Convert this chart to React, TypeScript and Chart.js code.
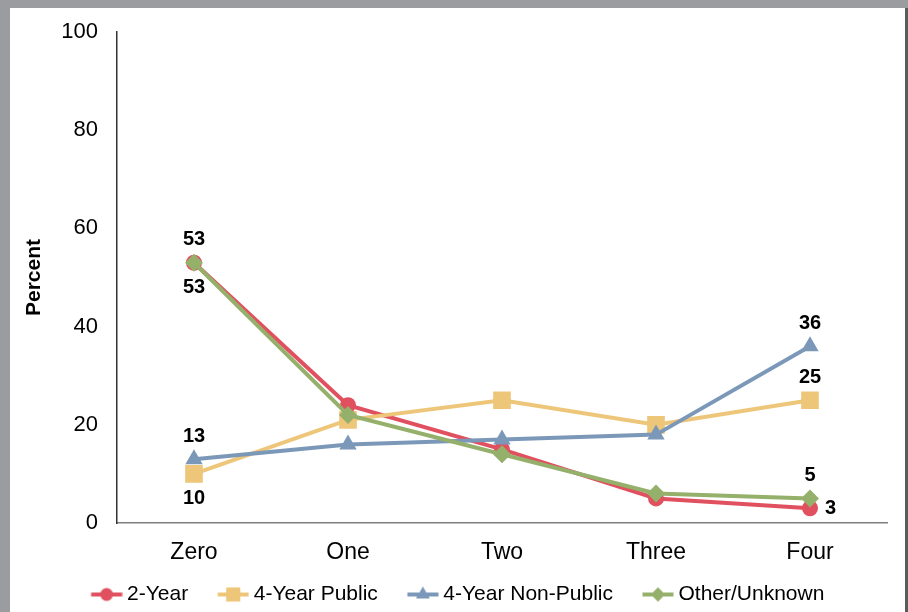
import React, { useEffect, useRef } from "react";
import { Chart, registerables } from "chart.js";

Chart.register(...registerables);

const categories = ["Zero", "One", "Two", "Three", "Four"];
const seriesNames = ["2-Year", "4-Year Public", "4-Year Non-Public", "Other/Unknown"];
const twoYear = [53, 24, 15, 5, 3];
const fourYearPublic = [10, 21, 25, 20, 25];
const fourYearNonPublic = [13, 16, 17, 18, 36];
const otherUnknown = [53, 22, 14, 6, 5];
const yMin = 0;
const yMax = 100;
const yStep = 20;

const COLORS = ["#E0505F", "#EEC67A", "#7B98B9", "#95B06A"];
const STYLES = ["circle", "rect", "triangle", "rectRot"];
const RADII = [8, 12.5, 10, 9];
const FONT = "'Liberation Sans', Arial, Helvetica, sans-serif";

function drawMarker(ctx: CanvasRenderingContext2D, style: string, x: number, y: number, r: number, color: string) {
  ctx.fillStyle = color;
  ctx.beginPath();
  if (style === "circle") {
    ctx.arc(x, y, r, 0, Math.PI * 2);
  } else if (style === "rect") {
    const s = Math.SQRT1_2 * r;
    ctx.rect(x - s, y - s, 2 * s, 2 * s);
  } else if (style === "triangle") {
    ctx.moveTo(x, y - r);
    ctx.lineTo(x + r * 0.866, y + r * 0.5);
    ctx.lineTo(x - r * 0.866, y + r * 0.5);
    ctx.closePath();
  } else {
    ctx.moveTo(x, y - r);
    ctx.lineTo(x + r, y);
    ctx.lineTo(x, y + r);
    ctx.lineTo(x - r, y);
    ctx.closePath();
  }
  ctx.fill();
}

// legend icon: transparent left part, line + marker at the right
function makeLegendIcon(i: number) {
  const c = document.createElement("canvas");
  c.width = 56;
  c.height = 20;
  const ctx = c.getContext("2d")!;
  ctx.strokeStyle = COLORS[i];
  ctx.lineWidth = 4;
  ctx.beginPath();
  ctx.moveTo(24.5, 10);
  ctx.lineTo(55.5, 10);
  ctx.stroke();
  drawMarker(ctx, STYLES[i], 40, 10, RADII[i] * 0.8, COLORS[i]);
  return c;
}

// [datasetIndex, pointIndex, placement]
const valueLabels: [number, number, string][] = [
  [0, 0, "above"],
  [3, 0, "below"],
  [2, 0, "above"],
  [1, 0, "below"],
  [2, 4, "above"],
  [1, 4, "above"],
  [3, 4, "above"],
  [0, 4, "right"],
];

const framePlugin = {
  id: "frame",
  beforeDraw(chart: any) {
    const ctx = chart.ctx;
    ctx.save();
    ctx.fillStyle = "#9B9CA0";
    ctx.fillRect(0, 0, chart.width, chart.height);
    ctx.fillStyle = "#FFFFFF";
    ctx.fillRect(10, 8, 895, chart.height - 8);
    ctx.fillStyle = "#5A5A5A";
    ctx.fillRect(905, 8, 3, chart.height - 8);
    ctx.restore();
  },
};

const labelPlugin = {
  id: "valueLabels",
  afterDatasetsDraw(chart: any) {
    const ctx = chart.ctx;
    ctx.save();
    ctx.font = `bold 20px ${FONT}`;
    ctx.fillStyle = "#000";
    for (const [d, i, pos] of valueLabels) {
      const el = chart.getDatasetMeta(d).data[i];
      const v = chart.data.datasets[d].data[i];
      let x = el.x;
      let y = el.y;
      ctx.textAlign = "center";
      ctx.textBaseline = "middle";
      if (pos === "above") y -= 23;
      else if (pos === "below") y += 25;
      else {
        ctx.textAlign = "left";
        x += 15;
      }
      ctx.fillText(String(v), x, y);
    }
    ctx.restore();
  },
};

export default function App() {
  const ref = useRef<HTMLCanvasElement | null>(null);
  useEffect(() => {
    if (!ref.current) return;
    const series = [twoYear, fourYearPublic, fourYearNonPublic, otherUnknown];
    const chart = new Chart(ref.current, {
      type: "line",
      data: {
        labels: categories,
        datasets: series.map((data, i) => ({
          label: seriesNames[i],
          data,
          order: series.length - 1 - i,
          borderColor: COLORS[i],
          backgroundColor: COLORS[i],
          borderWidth: 4,
          pointStyle: STYLES[i] as any,
          pointRadius: RADII[i],
          pointBorderWidth: 0,
          pointBackgroundColor: COLORS[i],
          tension: 0,
        })),
      },
      options: {
        animation: false,
        responsive: true,
        maintainAspectRatio: false,
        layout: { padding: { left: 10, right: 21, top: 32, bottom: -3 } },
        plugins: {
          tooltip: { enabled: false },
          legend: {
            position: "bottom",
            labels: {
              usePointStyle: true,
              pointStyleWidth: 44,
              padding: 11,
              color: "#000",
              font: { family: FONT, size: 21 },
              generateLabels: (ch: any) =>
                ch.data.datasets.map((ds: any, i: number) => ({
                  text: ds.label,
                  pointStyle: makeLegendIcon(i),
                  fillStyle: COLORS[i],
                  strokeStyle: COLORS[i],
                  lineWidth: 0,
                  hidden: false,
                  datasetIndex: i,
                  fontColor: "#000",
                })),
            },
          },
        },
        scales: {
          x: {
            offset: true,
            grid: { display: false },
            border: { display: true, color: "#7F7F7F", width: 1.5 },
            ticks: { color: "#000", font: { family: FONT, size: 23 }, padding: 8 },
            afterFit: (s: any) => {
              s.height = 50;
            },
          },
          y: {
            min: yMin,
            max: yMax,
            grid: { display: false },
            border: { display: true, color: "#333", width: 1.5 },
            ticks: { stepSize: yStep, color: "#000", font: { family: FONT, size: 22 }, padding: 11 },
            title: {
              display: true,
              text: "Percent",
              color: "#000",
              font: { family: FONT, size: 21, weight: "bold" },
              padding: { top: 12, bottom: 0 },
            },
            afterFit: (s: any) => {
              s.width = 107;
            },
          },
        },
      },
      plugins: [framePlugin, labelPlugin],
    });
    return () => chart.destroy();
  }, []);
  return (
    <div style={{ position: "fixed", left: 0, top: 0, width: 908, height: 612 }}>
      <canvas ref={ref} />
    </div>
  );
}
